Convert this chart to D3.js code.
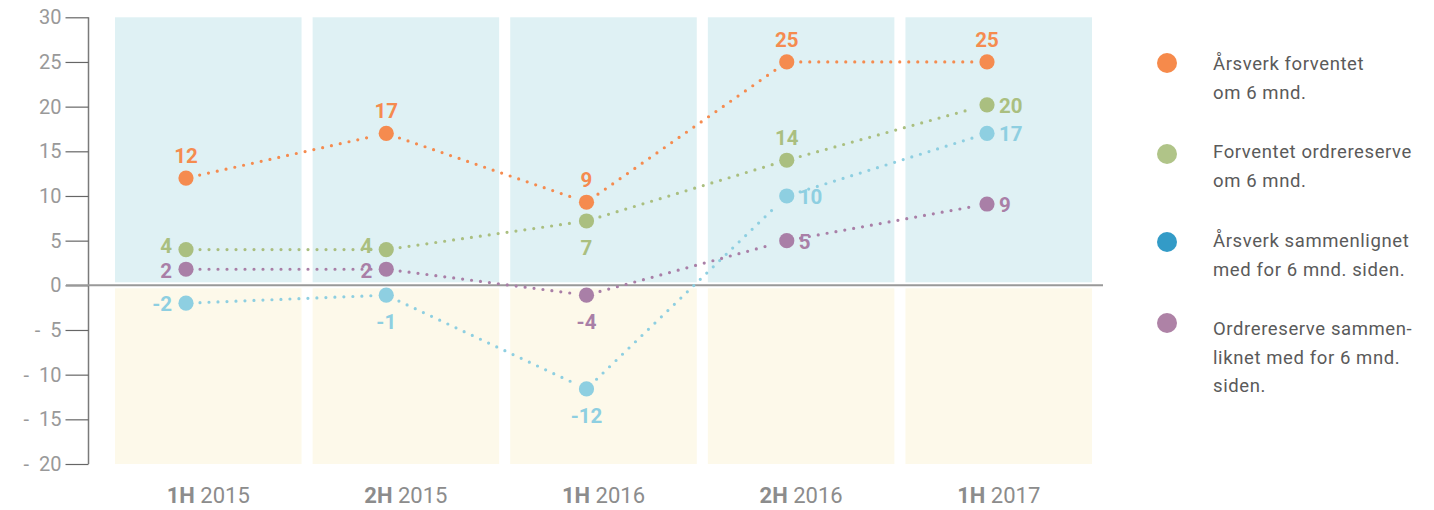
<!DOCTYPE html>
<html>
<head>
    <meta charset="utf-8" />
    <title></title>
    <script src="https://cdn.jsdelivr.net/npm/d3@7"></script>
    <style>
        body { margin: 0; background: #fff; }
        svg text { font-family: Roboto, "DejaVu Sans", sans-serif; }
        .tick-label { fill: #999; font-size: 20px; }
        .x-label { fill: #8c8c8c; font-size: 22px; }
        .legend-text { fill: #5a5a5a; font-size: 18.5px; letter-spacing: 0.6px; }
        .val { font-size: 20.5px; font-weight: bold; }
    </style>
</head>
<body>
    <svg width="1434" height="510"></svg>
    <script>
        var categories = [['1H', '2015'], ['2H', '2015'], ['1H', '2016'], ['2H', '2016'], ['1H', '2017']];
        var yTicks = [30, 25, 20, 15, 10, 5, 0, -5, -10, -15, -20];

        // plotted positions, printed numbers kept apart
        var arsverkForventet = [12, 17, 9.3, 25, 25];
        var ordreForventet = [4, 4, 7.2, 14, 20.2];
        var arsverkSammenlignet = [-2, -1.1, -11.6, 10, 17];
        var ordreSammenlignet = [1.8, 1.8, -1.1, 5, 9.1];

        var arsverkForventetLbl = ['12', '17', '9', '25', '25'];
        var ordreForventetLbl = ['4', '4', '7', '14', '20'];
        var arsverkSammenlignetLbl = ['-2', '-1', '-12', '10', '17'];
        var ordreSammenlignetLbl = ['2', '2', '-4', '5', '9'];

        var legendLines = [
            ['Årsverk forventet', 'om 6 mnd.'],
            ['Forventet ordrereserve', 'om 6 mnd.'],
            ['Årsverk sammenlignet', 'med for 6 mnd. siden.'],
            ['Ordrereserve sammen-', 'liknet med for 6 mnd.', 'siden.']
        ];

        // where each value label sits relative to its dot
        var labelSide = [
            ['top', 'top', 'top', 'top', 'top'],
            ['left', 'left', 'bottom', 'top', 'right'],
            ['left', 'bottom', 'bottom', 'right', 'right'],
            ['left', 'left', 'bottom', 'right', 'right']
        ];
        // vertical nudge for left-side labels per series (green sits a bit higher)
        var leftNudge = [8, 3, 8, 9];

        var series = [
            { values: arsverkForventet, labels: arsverkForventetLbl, color: '#f58b4f', legend: '#f68a4b' },
            { values: ordreForventet, labels: ordreForventetLbl, color: '#aabf80', legend: '#b0c488' },
            { values: arsverkSammenlignet, labels: arsverkSammenlignetLbl, color: '#8ecfe1', legend: '#339bc7' },
            { values: ordreSammenlignet, labels: ordreSammenlignetLbl, color: '#a97fa7', legend: '#ae82a6' }
        ];

        var svg = d3.select('svg');
        var keys = categories.map(function (c) { return c.join(' '); });

        var y = d3.scaleLinear().domain([-20, 30]).range([464, 17.3]);
        var band = d3.scaleBand().domain(keys).range([115, 1092]).paddingInner(0.056).paddingOuter(0);
        var xp = d3.scalePoint().domain(keys).range([186, 987]);

        // column backgrounds
        var cols = svg.append('g');
        cols.selectAll('rect.up').data(keys).enter().append('rect')
            .attr('x', function (d) { return band(d); })
            .attr('width', band.bandwidth())
            .attr('y', y(30))
            .attr('height', y(0) - 3 - y(30))
            .attr('fill', '#dff1f4');
        cols.selectAll('rect.down').data(keys).enter().append('rect')
            .attr('x', function (d) { return band(d); })
            .attr('width', band.bandwidth())
            .attr('y', y(0) + 3)
            .attr('height', y(-20) - y(0) - 3)
            .attr('fill', '#fdf9ea');

        // y axis
        var yAxis = d3.axisLeft(y).tickValues(yTicks).tickSize(23).tickPadding(4)
            .tickFormat(function (d) { return d < 0 ? '-  ' + Math.abs(d) : d; });
        var ga = svg.append('g').attr('transform', 'translate(88.5,0)').call(yAxis);
        ga.select('.domain').attr('stroke', '#7a7a7a').attr('stroke-width', 1.5).attr('d', 'M0,' + y(30) + 'V' + y(-20));
        ga.selectAll('.tick line').attr('stroke', '#666').attr('stroke-width', 1.2);
        ga.selectAll('.tick text').attr('class', 'tick-label').attr('font-family', null).attr('font-size', null)
            .style('white-space', 'pre').attr('xml:space', 'preserve');

        // zero line
        svg.append('line')
            .attr('x1', 66).attr('x2', 1103)
            .attr('y1', y(0)).attr('y2', y(0))
            .attr('stroke', '#999').attr('stroke-width', 2);

        // x labels
        var xl = svg.append('g').selectAll('text').data(categories).enter().append('text')
            .attr('class', 'x-label')
            .attr('x', function (d, i) { return band(keys[i]) + band.bandwidth() / 2; })
            .attr('y', 503)
            .attr('text-anchor', 'middle');
        xl.append('tspan').attr('font-weight', 'bold').text(function (d) { return d[0]; });
        xl.append('tspan').text(function (d) { return ' ' + d[1]; });

        var gap = 14;
        series.forEach(function (s, si) {
            var pts = s.values.map(function (v, i) { return [xp(keys[i]), y(v)]; });
            var g = svg.append('g');
            // dotted connectors, pulled back from the dots
            for (var i = 0; i < pts.length - 1; i++) {
                var a = pts[i], b = pts[i + 1];
                var dx = b[0] - a[0], dy = b[1] - a[1], len = Math.sqrt(dx * dx + dy * dy);
                var ux = dx / len, uy = dy / len;
                g.append('path')
                    .attr('d', d3.line()([[a[0] + ux * gap, a[1] + uy * gap], [b[0] - ux * gap, b[1] - uy * gap]]))
                    .attr('stroke', s.color)
                    .attr('stroke-width', 3.2)
                    .attr('stroke-linecap', 'round')
                    .attr('stroke-dasharray', '0 9')
                    .attr('fill', 'none');
            }
            g.selectAll('circle').data(pts).enter().append('circle')
                .attr('cx', function (d) { return d[0]; })
                .attr('cy', function (d) { return d[1]; })
                .attr('r', 7.6)
                .attr('fill', s.color);
            g.selectAll('text').data(pts).enter().append('text')
                .attr('class', 'val')
                .attr('fill', s.color)
                .attr('x', function (d, i) {
                    var side = labelSide[si][i];
                    if (side === 'left') return d[0] - 14;
                    if (side === 'right') return d[0] + 12;
                    return d[0];
                })
                .attr('y', function (d, i) {
                    var side = labelSide[si][i];
                    if (side === 'top') return d[1] - 15;
                    if (side === 'bottom') return d[1] + 34;
                    if (side === 'left') return d[1] + leftNudge[si];
                    return d[1] + 8;
                })
                .attr('text-anchor', function (d, i) {
                    var side = labelSide[si][i];
                    return side === 'left' ? 'end' : side === 'right' ? 'start' : 'middle';
                })
                .text(function (d, i) { return s.labels[i]; });
        });

        // legend
        var legendY = [63, 154, 242, 323];
        var legendBase = [70, 158, 247, 335];
        var lg = svg.append('g').selectAll('g').data(series).enter().append('g');
        lg.append('circle')
            .attr('cx', 1167)
            .attr('cy', function (d, i) { return legendY[i]; })
            .attr('r', 10)
            .attr('fill', function (d) { return d.legend; });
        lg.each(function (d, i) {
            d3.select(this).selectAll('text').data(legendLines[i]).enter().append('text')
                .attr('class', 'legend-text')
                .attr('x', 1213)
                .attr('y', function (t, j) { return legendBase[i] + j * 28.5; })
                .text(function (t) { return t; });
        });
    </script>
</body>
</html>
